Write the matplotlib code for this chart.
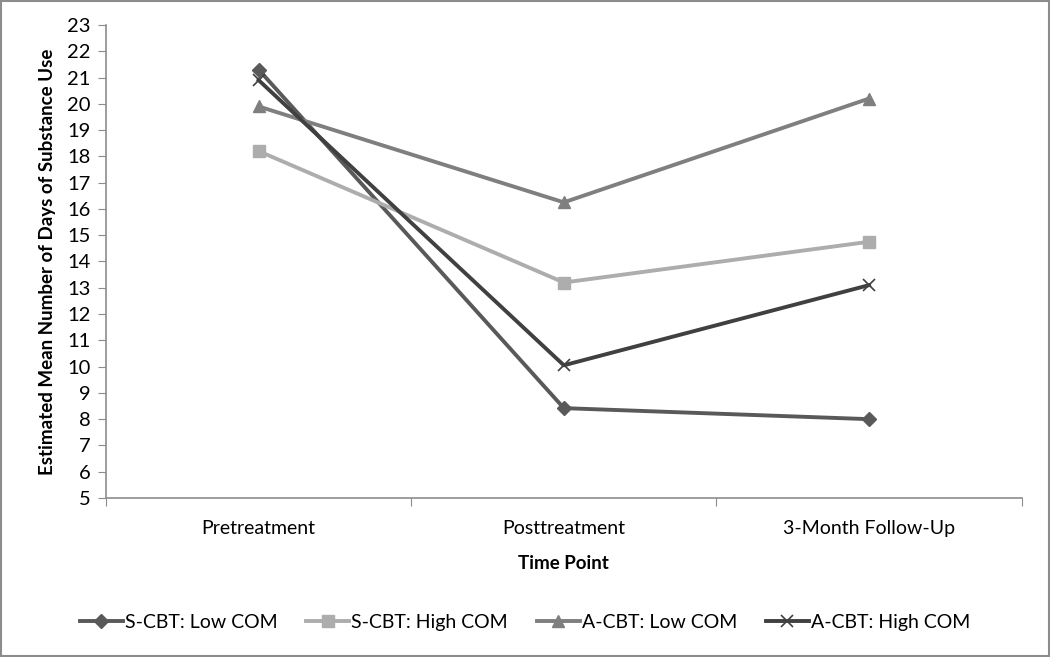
#!/usr/bin/env python
import matplotlib
matplotlib.use("Agg")
import matplotlib.pyplot as plt
from matplotlib.patches import Rectangle

plt.rcParams['font.family'] = ['Lato', 'DejaVu Sans']

# time points and estimated means
time_points = ['Pretreatment', 'Posttreatment', '3-Month Follow-Up']
scbt_low = [21.3, 8.42, 8.0]
scbt_high = [18.2, 13.2, 14.75]
acbt_low = [19.9, 16.25, 20.2]
acbt_high = [20.9, 10.05, 13.1]

series_names = ['S-CBT: Low COM', 'S-CBT: High COM', 'A-CBT: Low COM', 'A-CBT: High COM']
series_colors = ['#595959', '#adadad', '#7f7f7f', '#404040']
series_markers = ['D', 's', '^', 'x']
marker_sizes = [7, 9, 9, 9]

fig = plt.figure(figsize=(10.5, 6.57), dpi=100)
ax = fig.add_axes([0.101, 0.242, 0.872, 0.720])

x = [0.5, 1.5, 2.5]
for vals, name, col, mk, ms in zip([scbt_low, scbt_high, acbt_low, acbt_high],
                                   series_names, series_colors, series_markers, marker_sizes):
    ax.plot(x, vals, color=col, lw=2.8, marker=mk, markersize=ms,
            markeredgecolor=col, markerfacecolor=col, label=name,
            markeredgewidth=1.2 if mk == 'x' else 1)

ax.set_xlim(0, 3)
ax.set_ylim(5, 23)
ax.set_yticks(range(5, 24))
ax.set_xticks([0, 1, 2, 3])
ax.set_xticklabels([])
ax.set_xticks(x, minor=True)
ax.set_xticklabels(time_points, minor=True, fontsize=14)
ax.tick_params(axis='x', which='minor', length=0, pad=16)
ax.tick_params(axis='x', which='major', length=6, color='#8c8c8c', direction='out')
ax.tick_params(axis='y', length=6, color='#8c8c8c', labelsize=14.5, pad=5)

for s in ['top', 'right']:
    ax.spines[s].set_visible(False)
for s in ['left', 'bottom']:
    ax.spines[s].set_color('#8c8c8c')
    ax.spines[s].set_linewidth(1.2)

ax.set_ylabel('Estimated Mean Number of Days of Substance Use', fontsize=13.5, fontweight='bold', labelpad=8)
ax.set_xlabel('Time Point', fontsize=13.5, fontweight='bold', labelpad=13)

fig.legend(loc='center', bbox_to_anchor=(0.50, 0.053), ncol=4, frameon=False,
           fontsize=14, handlelength=2.2, handletextpad=0.1, columnspacing=1.5)

# outer border
fig.patches.append(Rectangle((0.001, 0.001), 0.998, 0.998, transform=fig.transFigure,
                             fill=False, edgecolor='#8c8c8c', linewidth=1.5))

fig.savefig('out.png', dpi=100)
